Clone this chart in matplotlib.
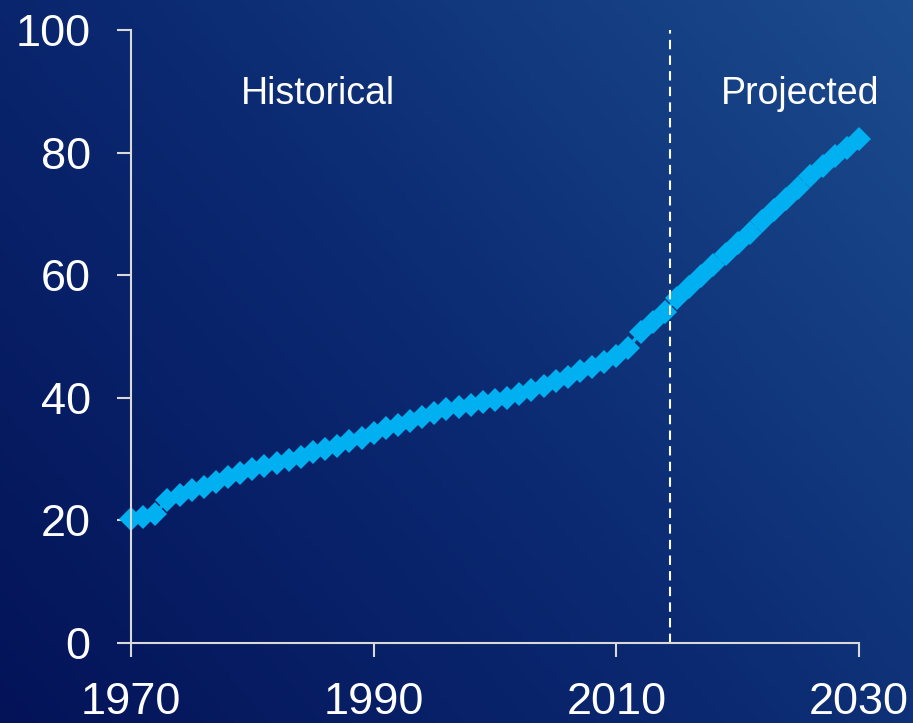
import numpy as np
import matplotlib
matplotlib.use("Agg")
import matplotlib.pyplot as plt
from matplotlib.colors import LinearSegmentedColormap

plt.rcParams['font.family'] = ['Liberation Sans', 'DejaVu Sans']

years = list(range(1970, 2031))
values = [20.2, 20.6, 21.1, 23.4, 24.2, 24.9, 25.5, 26.3, 27.1, 27.7,
          28.4, 28.9, 29.4, 29.9, 30.4, 31.1, 31.6, 32.2, 32.9, 33.5,
          34.2, 35.0, 35.6, 36.2, 36.9, 37.6, 38.1, 38.5, 38.9, 39.3,
          39.7, 40.0, 40.7, 41.2, 41.9, 42.8, 43.4, 44.3, 45.0, 45.8,
          46.9, 48.2, 50.7, 52.3, 54.0, 56.3, 58.0, 59.8, 61.6, 63.4,
          65.2, 66.9, 68.8, 70.6, 72.4, 74.3, 76.2, 77.8, 79.4, 80.8,
          82.2]
xticks = [1970, 1990, 2010, 2030]
yticks = [0, 20, 40, 60, 80, 100]
divider_year = 2014.4
labels = ["Historical", "Projected"]
label_x = [1985.4, 2025.15]
label_y = 89.6

fig = plt.figure(figsize=(9.13, 7.23), dpi=100)

# gradient background
bg = fig.add_axes([0, 0, 1, 1], zorder=0)
bg.set_axis_off()
h, w = 200, 250
yy, xx = np.mgrid[0:1:h*1j, 0:1:w*1j]
t = (xx * 0.6 + yy * 0.4)
cmap = LinearSegmentedColormap.from_list("bg", ["#041358", "#0b2a72", "#1c4c8e"])
bg.imshow(t, cmap=cmap, origin="lower", extent=[0, 1, 0, 1], aspect="auto")
bg.set_xlim(0, 1); bg.set_ylim(0, 1)

ax = fig.add_axes([131/913, 1 - 643/723, (859-131)/913, (643-30)/723], zorder=1)
ax.patch.set_alpha(0)
ax.plot(years, values, color="#00B0F0", lw=2.5, marker="D", markersize=12.5,
        markeredgewidth=0, solid_capstyle="butt", clip_on=False)
ax.axvline(divider_year, color="white", lw=1.5, linestyle=(0, (4.5, 3)))

for lab, lx in zip(labels, label_x):
    ax.text(lx, label_y, lab, color="white", fontsize=27, ha="center", va="center")

ax.set_xlim(1970, 2030)
ax.set_ylim(0, 100)
ax.set_xticks(xticks)
ax.set_yticks(yticks)
for s in ["top", "right"]:
    ax.spines[s].set_visible(False)
for s in ["left", "bottom"]:
    ax.spines[s].set_color("#d9d9d9")
    ax.spines[s].set_linewidth(1.5)
ax.tick_params(axis="both", direction="out", length=10, width=1.5,
               color="#d9d9d9", labelcolor="white", labelsize=32.5)
ax.tick_params(axis="y", pad=19)
ax.tick_params(axis="x", pad=18)

fig.savefig("out.png", dpi=100)
